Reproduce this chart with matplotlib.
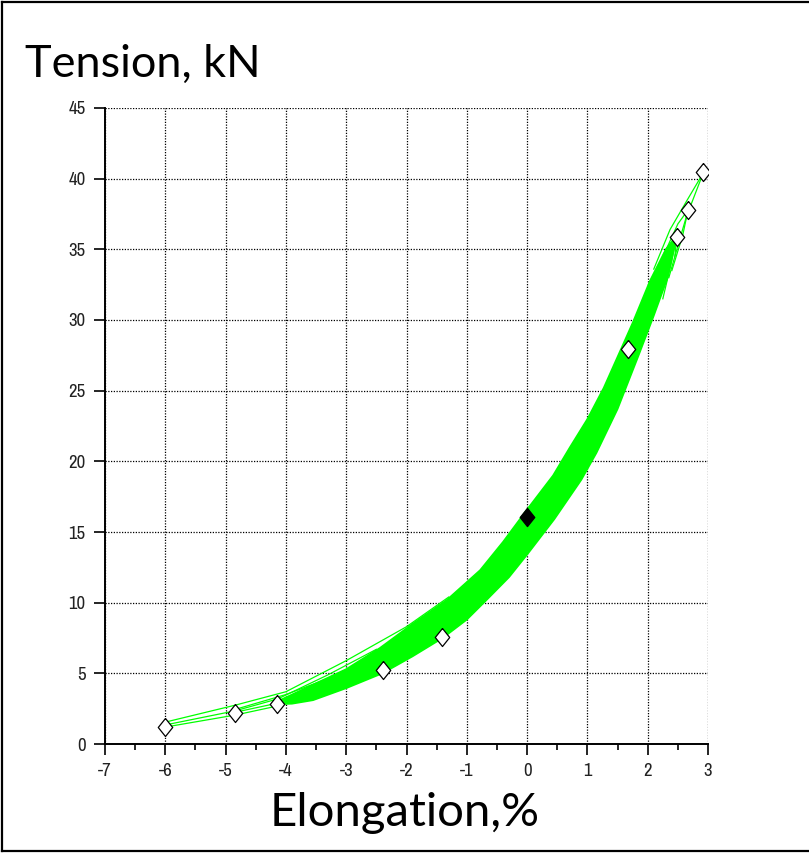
import numpy as np
import matplotlib

matplotlib.use('Agg')
import matplotlib.pyplot as plt
from matplotlib import font_manager
from matplotlib.lines import Line2D

# Hysteresis band of the tension / elongation cycles (edges of the dense bundle)
band_upper_x = [-4.20, -3.90, -3.55, -3.00, -2.44, -1.90, -1.33, -0.78, -0.40, 0.00, 0.43, 0.71,
                1.00, 1.27, 1.50, 1.75, 2.04, 2.30, 2.48]
band_upper_y = [2.9, 3.5, 4.2, 5.3, 6.8, 8.5, 10.2, 12.3, 14.3, 16.6, 19.0, 21.0,
                23.0, 25.2, 27.4, 29.8, 32.8, 35.0, 36.0]
band_lower_x = [-4.20, -3.90, -3.55, -3.00, -2.40, -1.90, -1.40, -1.00, -0.67, -0.30, 0.00, 0.45,
                0.90, 1.15, 1.50, 1.84, 2.10, 2.33, 2.48]
band_lower_y = [2.8, 2.85, 3.1, 3.95, 5.0, 6.2, 7.5, 8.8, 10.2, 11.8, 13.4, 15.9,
                18.7, 20.6, 23.7, 27.4, 30.3, 33.0, 35.9]

# single cycles running out of the bundle at the low end
low_strands = [
    ([-6.00, -4.84, -4.00, -3.00, -2.00, -1.30], [1.55, 2.75, 3.70, 5.90, 8.30, 10.40]),
    ([-6.00, -4.84, -4.13, -3.30, -2.50], [1.35, 2.35, 3.20, 4.90, 6.70]),
    ([-6.00, -4.84, -4.13], [1.20, 2.05, 2.70]),
    ([-4.84, -4.13, -3.50], [2.25, 2.90, 3.40]),
    ([-4.84, -4.00, -3.20], [2.45, 3.50, 4.80]),
    ([-4.13, -3.40, -2.60, -1.80], [3.05, 4.30, 6.00, 8.00]),
]

# single cycles running out of the bundle at the high end
high_strands = [
    ([2.10, 2.37, 2.67, 2.92], [33.6, 36.4, 38.6, 40.4]),
    ([2.92, 2.64, 2.53, 2.35], [40.4, 37.3, 35.7, 33.0]),
    ([2.20, 2.50, 2.67, 2.58, 2.40], [34.0, 36.8, 37.8, 36.0, 33.5]),
    ([2.15, 2.35, 2.48, 2.45], [33.0, 35.2, 35.9, 34.5]),
    ([2.05, 2.30, 2.48, 2.40, 2.25], [32.5, 35.0, 35.9, 34.2, 31.5]),
]

# measured points
point_x = [-6.00, -4.84, -4.14, -2.39, -1.41, 1.67, 2.48, 2.67, 2.92]
point_y = [1.18, 2.17, 2.81, 5.24, 7.60, 27.95, 35.90, 37.80, 40.45]
mean_x = [0.0]
mean_y = [16.05]

x_ticks = list(range(-7, 4))
y_ticks = list(range(0, 50, 5))

green = '#00ff00'
title_font = ['Lato', 'DejaVu Sans']

# narrow face for the tick numbers if one is installed
narrow = sorted({f.name for f in font_manager.fontManager.ttflist
                 if 'Narrow' in f.name or 'Condensed' in f.name})
tick_font = narrow[:1] + ['Liberation Sans', 'DejaVu Sans']

diamond = [(0, 1), (0.8, 0), (0, -1), (-0.8, 0), (0, 1)]

fig = plt.figure(figsize=(8.09, 8.55), dpi=100)
ax = fig.add_axes([0.1298, 0.1298, 0.7454, 0.7439])

# band as a filled polygon, plus its edges
ax.fill(np.concatenate([band_upper_x, band_lower_x[::-1]]),
        np.concatenate([band_upper_y, band_lower_y[::-1]]),
        color=green, lw=0, zorder=2)
ax.plot(band_upper_x, band_upper_y, color=green, lw=1.2, zorder=2)
ax.plot(band_lower_x, band_lower_y, color=green, lw=1.2, zorder=2)
for sx, sy in low_strands + high_strands:
    ax.plot(sx, sy, color=green, lw=0.9, zorder=2)

ax.plot(point_x, point_y, ls='none', marker=diamond, ms=13, mfc='white', mec='black', mew=0.9, zorder=4)
ax.plot(mean_x, mean_y, ls='none', marker=diamond, ms=13, mfc='black', mec='black', zorder=4)

ax.set_xlim(-7, 3)
ax.set_ylim(0, 45)
ax.set_xticks(x_ticks)
ax.set_yticks(y_ticks)
ax.set_xticks(np.arange(-6.5, 3, 1.0), minor=True)

ax.grid(True, which='major', color='black', ls=(0, (1, 1.2)), lw=0.9)
ax.set_axisbelow(True)

for side in ['top', 'right']:
    ax.spines[side].set_visible(False)
for side in ['left', 'bottom']:
    ax.spines[side].set_linewidth(1.4)

ax.tick_params(which='major', direction='out', length=8, width=1.2, pad=6, labelsize=13.5, colors='black')
ax.tick_params(which='minor', direction='out', length=4, width=1.2)
ax.set_xticklabels([str(v) for v in x_ticks], family=tick_font, color='#222222')
ax.set_yticklabels([str(v) for v in y_ticks], family=tick_font, color='#222222')

fig.text(25 / 809, 1 - 77 / 855, 'Tension, kN', fontsize=32.5, family=title_font, ha='left', va='baseline')
fig.text(405 / 809, 1 - 826 / 855, 'Elongation,%', fontsize=34, family=title_font, ha='center', va='baseline')

# frame round the figure: left, top and bottom edges
frame = [([2, 2], [2, 851]), ([2, 809], [2, 2]), ([2, 809], [851, 851])]
for fx, fy in frame:
    fig.lines.append(Line2D([v / 809 for v in fx], [1 - v / 855 for v in fy],
                            transform=fig.transFigure, color='black', lw=1.6))

fig.savefig('out.png', dpi=100)
